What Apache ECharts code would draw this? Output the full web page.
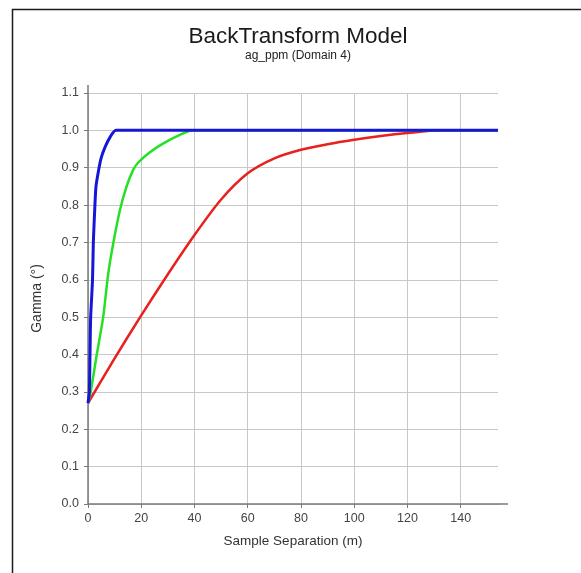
<!DOCTYPE html>
<html>
<head>
<meta charset="utf-8">
<script src="https://cdn.jsdelivr.net/npm/echarts@6/dist/echarts.min.js"></script>
<style>
html,body{margin:0;padding:0;background:#fff;}
#chart{width:581px;height:573px;}
</style>
</head>
<body>
<div id="chart"></div>
<script>
var titleText = 'BackTransform Model';
var subtitleText = 'ag_ppm (Domain 4)';
var xName = 'Sample Separation (m)';
var yName = 'Gamma (°)';
var xTicks = [0, 20, 40, 60, 80, 100, 120, 140];

var blueX = [0, 0.5, 0.75, 1.0, 1.7, 2.0, 2.6, 3.0, 3.9, 4.9, 6.4, 8.3, 10.5, 154];
var blueY = [0.27, 0.3, 0.4, 0.5, 0.6, 0.7, 0.8, 0.85, 0.89, 0.925, 0.955, 0.982, 1.0, 1.0];

var greenX = [0, 1.0, 3.3, 5.7, 7.6, 9.5, 12, 14.5, 17, 18.9, 23, 28.3, 34.5, 39.5, 154];
var greenY = [0.27, 0.3, 0.4, 0.5, 0.617, 0.698, 0.787, 0.85, 0.895, 0.914, 0.94, 0.965, 0.988, 1.0, 1.0];

var redX = [0, 5, 10, 20, 30, 40, 50, 60, 70, 80, 90, 100, 110, 120, 132, 154];
var redY = [0.27, 0.33, 0.39, 0.505, 0.615, 0.72, 0.815, 0.885, 0.925, 0.948, 0.963, 0.975, 0.985, 0.993, 1.0, 1.0];

function pairs(xs, ys) { return xs.map(function (x, i) { return [x, ys[i]]; }); }

var chart = echarts.init(document.getElementById('chart'), null, {renderer: 'canvas'});
var font = 'Liberation Sans, Arial, sans-serif';
var option = {
  animation: false,
  backgroundColor: '#fff',
  title: {
    text: titleText,
    subtext: subtitleText,
    left: 293,
    top: 20,
    textAlign: 'center',
    itemGap: 2,
    textStyle: {fontFamily: font, fontSize: 22.5, fontWeight: 'normal', color: '#1a1a1a'},
    subtextStyle: {fontFamily: font, fontSize: 12, color: '#222'}
  },
  grid: {left: 88, right: 83, top: 93, bottom: 69, containLabel: false},
  xAxis: {
    type: 'value', min: 0, max: 154,
    name: xName, nameLocation: 'middle', nameGap: 30,
    nameTextStyle: {fontFamily: font, fontSize: 13.5, color: '#333'},
    axisLine: {show: true, onZero: false, lineStyle: {color: '#7a7a7a', width: 1.5}},
    axisTick: {show: true, length: 4, customValues: xTicks, lineStyle: {color: '#7a7a7a'}},
    axisLabel: {customValues: xTicks, margin: 8, fontFamily: font, fontSize: 12.5, color: '#444'},
    splitLine: {show: true, lineStyle: {color: '#c8c8c8', width: 1}}
  },
  yAxis: {
    type: 'value', min: 0, max: 1.1, interval: 0.1,
    name: yName, nameLocation: 'middle', nameGap: 44,
    nameTextStyle: {fontFamily: font, fontSize: 14, color: '#333'},
    axisLine: {show: true, onZero: false, lineStyle: {color: '#7a7a7a', width: 1.5}},
    axisTick: {show: true, length: 4, lineStyle: {color: '#7a7a7a'}},
    axisLabel: {margin: 9, fontFamily: font, fontSize: 12.5, color: '#444',
      formatter: function (v) { return v.toFixed(1); }},
    splitLine: {show: true, lineStyle: {color: '#c8c8c8', width: 1}}
  },
  series: [
    {type: 'line', name: 'red', data: pairs(redX, redY), showSymbol: false, smooth: 0.25,
      lineStyle: {color: '#e8201e', width: 2.5}, z: 3},
    {type: 'line', name: 'green', data: pairs(greenX, greenY), showSymbol: false, smooth: 0.2,
      lineStyle: {color: '#26e026', width: 2.5}, z: 4},
    {type: 'line', name: 'blue', data: pairs(blueX, blueY), showSymbol: false, smooth: 0.2,
      lineStyle: {color: '#1616d8', width: 3}, z: 5}
  ]
};
chart.setOption(option);

function addDecor() {
  var o = chart.convertToPixel({gridIndex: 0}, [0, 0]);
  var e = chart.convertToPixel({gridIndex: 0}, [154, 1.1]);
  chart.setOption({
    graphic: [
      {type: 'rect', silent: true, shape: {x: 12.5, y: 9.5, width: 700, height: 700},
        style: {fill: null, stroke: '#1a1a1a', lineWidth: 1.5}},
      {type: 'line', silent: true, shape: {x1: e[0], y1: o[1], x2: e[0] + 10, y2: o[1]},
        style: {stroke: '#7a7a7a', lineWidth: 1.5}},
      {type: 'line', silent: true, shape: {x1: o[0], y1: e[1], x2: o[0], y2: e[1] - 8},
        style: {stroke: '#7a7a7a', lineWidth: 1.5}}
    ]
  });
}
addDecor();
</script>
</body>
</html>
